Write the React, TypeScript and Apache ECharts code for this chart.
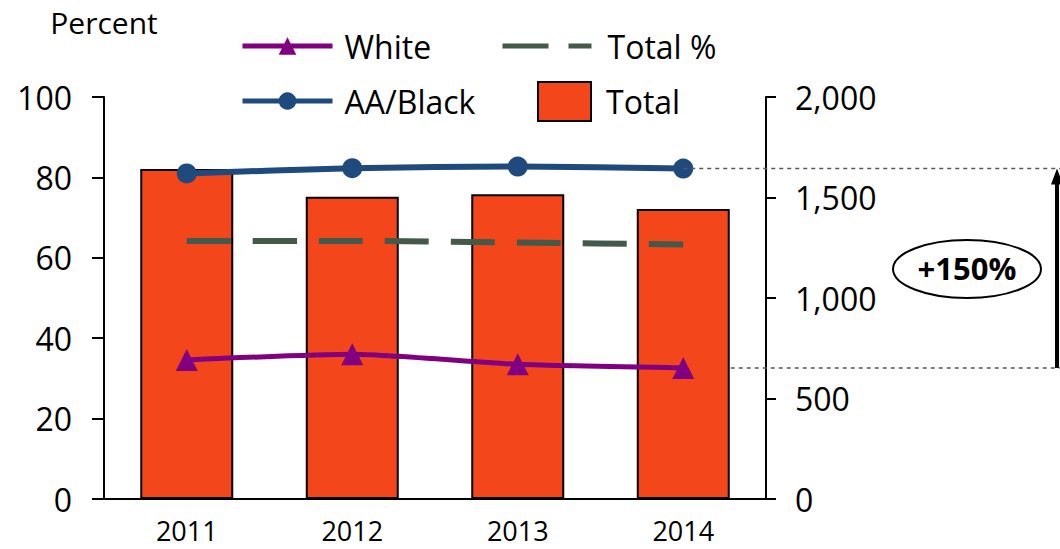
import React, { useEffect, useRef } from "react";
import * as echarts from "echarts";

const years = ["2011", "2012", "2013", "2014"];
const whitePct = [34.6, 36.0, 33.5, 32.6];
const blackPct = [81.0, 82.3, 82.7, 82.2];
const totalPct = [64.2, 64.2, 63.8, 63.3];
const totalCount = [1642, 1504, 1516, 1443];
const changeLabel = "+150%";

const FONT = "'Open Sans', sans-serif";
const C_WHITE = "#800080";
const C_BLACK = "#1F4A7E";
const C_TOTALP = "#43594A";
const C_BAR = "#F4461B";

export default function App() {
  const ref = useRef<HTMLDivElement>(null);
  useEffect(() => {
    if (!ref.current) return;
    const chart = echarts.init(ref.current, null, { renderer: "svg" });
    const legendText = (pad: number) => ({
      fontFamily: FONT,
      fontSize: 32,
      color: "#000",
      lineHeight: 40,
      padding: [0, 0, 0, pad],
    });
    const BAR_W = 93;
    chart.setOption({
      animation: false,
      backgroundColor: "#fff",
      textStyle: { fontFamily: FONT },
      grid: { left: 104, right: 294, top: 97, bottom: 50 },
      legend: [
        {
          data: ["White"], left: 240, top: 26, padding: 0,
          itemWidth: 90, itemHeight: 22, textStyle: legendText(7),
          lineStyle: { width: 5 },
        },
        {
          data: ["AA/Black"], left: 240, top: 81, padding: 0,
          itemWidth: 90, itemHeight: 22, textStyle: legendText(7),
          lineStyle: { width: 5 },
        },
        {
          data: [{ name: "Total %", itemStyle: { opacity: 0 } }], left: 500, top: 26, padding: 0,
          itemWidth: 89, itemHeight: 22, textStyle: legendText(11),
          lineStyle: { width: 5, type: [46, 20] },
        },
        {
          data: [{ name: "Total", icon: "rect" }], left: 537, top: 81, padding: 0,
          itemWidth: 53, itemHeight: 39, textStyle: legendText(10),
          itemStyle: { borderColor: "#000", borderWidth: 2 },
        },
      ],
      xAxis: {
        type: "category",
        data: years,
        axisLine: { lineStyle: { color: "#000", width: 2 } },
        axisTick: { show: false },
        axisLabel: { color: "#000", fontSize: 27, fontFamily: FONT, margin: 18, lineHeight: 26 },
      },
      yAxis: [
        {
          type: "value", min: 0, max: 100, interval: 20,
          name: "Percent", nameLocation: "end", nameGap: 60,
          nameTextStyle: { color: "#000", fontSize: 30, fontFamily: FONT },
          axisLine: { show: true, lineStyle: { color: "#000", width: 2 } },
          axisTick: { show: true, length: 12, lineStyle: { color: "#000", width: 2 } },
          axisLabel: { color: "#000", fontSize: 32, fontFamily: FONT, margin: 32 },
          splitLine: { show: false },
        },
        {
          type: "value", min: 0, max: 2000, interval: 500, position: "right",
          axisLine: { show: true, lineStyle: { color: "#000", width: 2 } },
          axisTick: { show: true, length: 10, lineStyle: { color: "#000", width: 2 } },
          axisLabel: {
            color: "#000", fontSize: 32, fontFamily: FONT, margin: 29,
            formatter: (v: number) => v.toLocaleString("en-US"),
          },
          splitLine: { show: false },
        },
      ],
      series: [
        {
          name: "Total", type: "bar", yAxisIndex: 1, data: totalCount, barWidth: BAR_W,
          itemStyle: { color: C_BAR, borderColor: "#000", borderWidth: 2 }, z: 1,
        },
        {
          name: "Total %", type: "line", data: totalPct, symbol: "none", smooth: 0.2,
          lineStyle: { color: C_TOTALP, width: 6, type: [44, 22] },
          itemStyle: { color: C_TOTALP }, z: 3,
        },
        {
          name: "White", type: "line", data: whitePct, symbol: "triangle", symbolSize: 22, smooth: 0.2,
          lineStyle: { color: C_WHITE, width: 5 }, itemStyle: { color: C_WHITE }, z: 4,
        },
        {
          name: "AA/Black", type: "line", data: blackPct, symbol: "circle", symbolSize: 20, smooth: 0.2,
          lineStyle: { color: C_BLACK, width: 6 }, itemStyle: { color: C_BLACK }, z: 5,
        },
      ],
    });

    const last = years.length - 1;
    const pB = chart.convertToPixel({ seriesIndex: 3 }, [last, blackPct[last]]) as number[];
    const pW = chart.convertToPixel({ seriesIndex: 2 }, [last, whitePct[last]]) as number[];
    const W = 1060;
    const ax = 1057;
    const headH = 16;
    chart.setOption({
      graphic: [
        {
          type: "line", z: 100,
          shape: { x1: pB[0], y1: pB[1], x2: W, y2: pB[1] },
          style: { stroke: "#595959", lineWidth: 1.5, lineDash: [4, 4] },
        },
        {
          type: "line", z: 100,
          shape: { x1: pW[0] + BAR_W / 2 + 1, y1: pW[1], x2: W, y2: pW[1] },
          style: { stroke: "#595959", lineWidth: 1.5, lineDash: [4, 4] },
        },
        {
          type: "line", z: 100,
          shape: { x1: ax, y1: pW[1], x2: ax, y2: pB[1] + headH - 1 },
          style: { stroke: "#000", lineWidth: 4 },
        },
        {
          type: "polygon", z: 100,
          shape: { points: [[ax, pB[1]], [ax - 6, pB[1] + headH], [ax + 6, pB[1] + headH]] },
          style: { fill: "#000" },
        },
        {
          type: "ellipse", z: 100,
          shape: { cx: 967, cy: 269, rx: 74, ry: 29 },
          style: { fill: "#fff", stroke: "#000", lineWidth: 2 },
        },
        {
          type: "text", z: 101, x: 967, y: 268,
          style: {
            text: changeLabel, fontFamily: FONT, fontSize: 31, fontWeight: "bold",
            fill: "#000", align: "center", verticalAlign: "middle",
          },
        },
      ],
    });

    return () => chart.dispose();
  }, []);
  return (
    <div
      ref={ref}
      style={{ position: "fixed", left: 0, top: 0, width: 1060, height: 549 }}
    />
  );
}
